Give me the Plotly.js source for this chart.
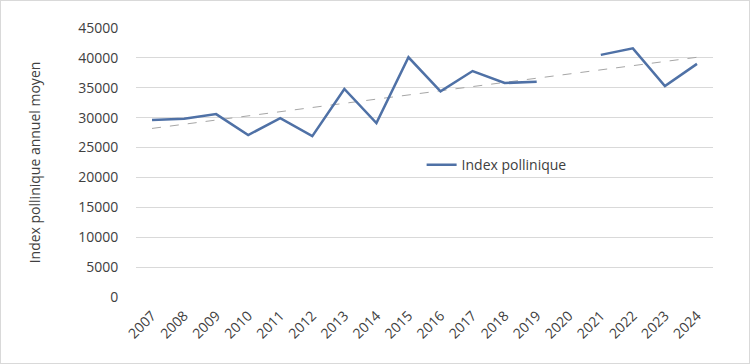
<!DOCTYPE html>
<html>
<head>
<meta charset="utf-8">
<script src="https://cdn.plot.ly/plotly-3.0.1.min.js"></script>
<style>
html,body{margin:0;padding:0;background:#fff;}
#chart{width:748px;height:362px;border:1px solid #d9d9d9;}
</style>
</head>
<body>
<div id="chart"></div>
<script>
const years = ["2007","2008","2009","2010","2011","2012","2013","2014","2015","2016","2017","2018","2019","2020","2021","2022","2023","2024"];
const pollenIndex = [29600,29800,30600,27100,29900,26900,34800,29100,40100,34400,37800,35800,36000,null,40500,41600,35300,39000];
const trendYears = ["2007","2024"];
const trendValues = [28200,40100];
const seriesName = "Index pollinique";
const yTitle = "Index pollinique annuel moyen";

const font = "'Open Sans', 'Noto Sans', sans-serif";
const traces = [
  {
    x: trendYears, y: trendValues, type: "scatter", mode: "lines",
    line: {color: "#a6a6a6", width: 1, dash: "dash"},
    showlegend: false, hoverinfo: "skip"
  },
  {
    x: years, y: pollenIndex, type: "scatter", mode: "lines", name: seriesName,
    line: {color: "#4f71a6", width: 2.5}, connectgaps: false
  }
];
const layout = {
  width: 748, height: 362,
  margin: {l: 135, r: 36, t: 27, b: 66},
  paper_bgcolor: "#fff", plot_bgcolor: "#fff",
  font: {family: font, size: 14, color: "#404040"},
  xaxis: {
    type: "category", categoryorder: "array", categoryarray: years,
    range: [-0.5, 17.5], tickangle: -45, showgrid: false, zeroline: false,
    showline: false, ticks: "outside", ticklen: 4, tickcolor: "rgba(0,0,0,0)",
    tickfont: {size: 14, color: "#404040"}
  },
  yaxis: {
    range: [0, 45000], dtick: 5000, showgrid: true, gridcolor: "#d9d9d9", gridwidth: 1,
    zeroline: false, showline: false, ticks: "outside", ticklen: 14, tickcolor: "rgba(0,0,0,0)",
    tickfont: {size: 14, color: "#404040"}, tickformat: "d",
    title: {text: yTitle, font: {size: 14, color: "#404040"}, standoff: 34}
  },
  legend: {
    x: 0.495, y: 0.49, xanchor: "left", yanchor: "middle",
    bgcolor: "rgba(0,0,0,0)", font: {size: 14, color: "#404040"}
  },
  showlegend: true
};
Plotly.newPlot("chart", traces, layout, {displayModeBar: false, staticPlot: true});
</script>
</body>
</html>
